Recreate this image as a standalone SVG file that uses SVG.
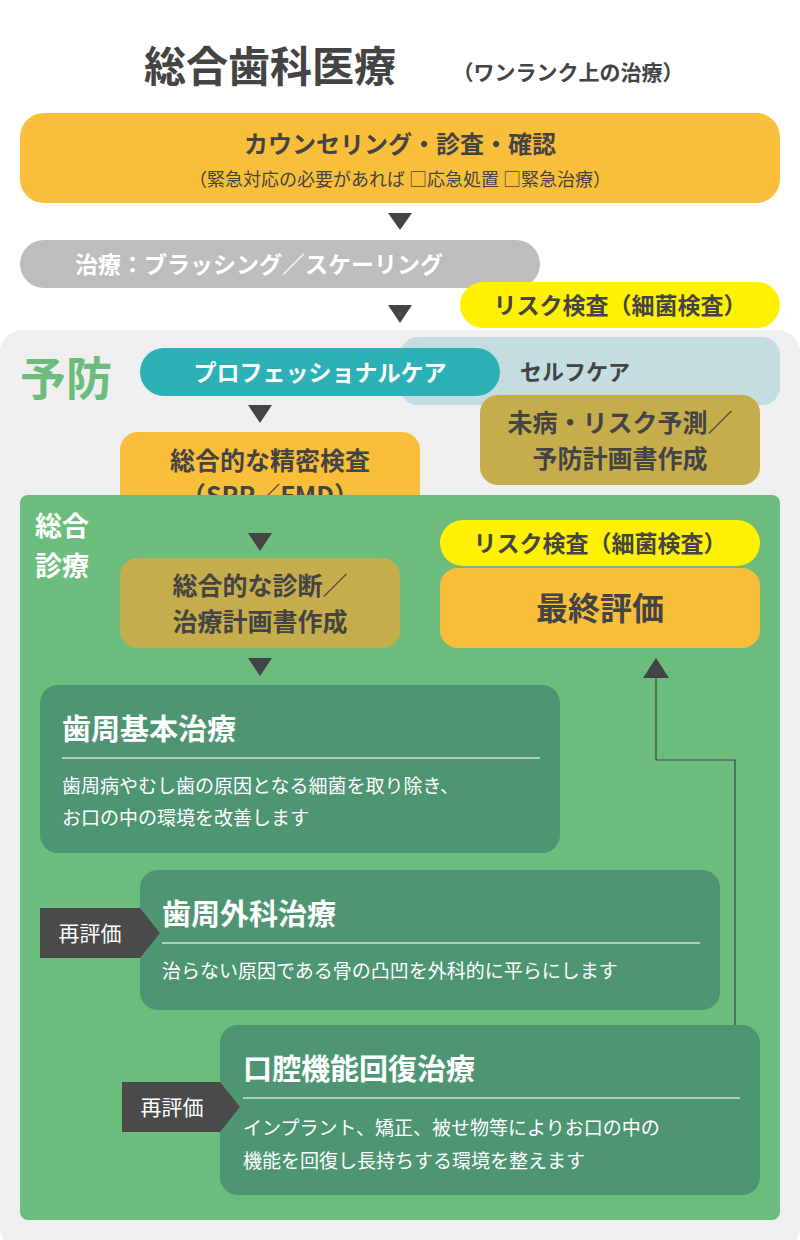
<svg xmlns="http://www.w3.org/2000/svg" width="800" height="1240" viewBox="0 0 800 1240">
<style>
text{font-family:"Noto Sans CJK JP","Noto Sans",sans-serif}
.serif{font-family:"Noto Serif CJK JP","Noto Sans CJK JP",serif}
.dk{fill:#444}
.w{fill:#fff}
.c{text-anchor:middle}
.b{font-weight:bold}
</style>
<rect width="800" height="1240" fill="#fff"/>
<text x="270" y="82" class="c b dk" font-size="42" fill="#444">総合歯科医療</text>
<text x="568" y="80" class="c b dk" font-size="21">（ワンランク上の治療）</text>

<g id="counsel"><rect x="20" y="113" width="760" height="90" rx="24" fill="#F9BF3A"/>
<text x="400" y="153" class="c b dk" font-size="24">カウンセリング・診査・確認</text>
<text x="400" y="186" class="c dk" font-size="18">（緊急対応の必要があれば □応急処置 □緊急治療）</text></g>

<g id="brush"><rect x="20" y="240" width="520" height="48" rx="24" fill="#BDBDBD"/>
<text x="75" y="273" class="w b" font-size="23">治療：ブラッシング／スケーリング</text></g>

<rect x="0" y="330" width="800" height="920" rx="22" fill="#EFEFEF"/>

<g id="risk1"><rect x="460" y="282" width="320" height="46" rx="23" fill="#FFF100"/>
<text x="620" y="314" class="c b dk" font-size="23">リスク検査（細菌検査）</text></g>

<text x="20" y="395" font-size="46" font-weight="bold" fill="#6CBD7D">予防</text>

<g id="self"><rect x="400" y="337" width="380" height="68" rx="18" fill="#C5DCE0"/>
<text x="520" y="380" class="b dk" font-size="22">セルフケア</text></g>
<g id="pro"><rect x="140" y="348" width="360" height="48" rx="24" fill="#2CB2B6"/>
<text x="320" y="381" class="c w b" font-size="23">プロフェッショナルケア</text></g>

<g id="mibyo"><rect x="480" y="395" width="280" height="90" rx="18" fill="#C6AD4C"/>
<text x="620" y="432" class="c b dk" font-size="25">未病・リスク予測／</text>
<text x="620" y="468" class="c b dk" font-size="25">予防計画書作成</text></g>

<g id="seimitsu"><rect x="120" y="432" width="300" height="90" rx="18" fill="#F9BF3A"/>
<text x="270" y="470" class="c b dk" font-size="25">総合的な精密検査</text>
<text x="270" y="505" class="c b dk" font-size="25">（SRP／FMD）</text></g>

<rect x="20" y="495" width="760" height="725" rx="8" fill="#6CBD7D"/>
<text x="35" y="536" class="w b" font-size="27">総合</text>
<text x="35" y="576" class="w b" font-size="27">診療</text>

<g id="shindan"><rect x="120" y="558" width="280" height="90" rx="18" fill="#C6AD4C"/>
<text x="260" y="595" class="c b dk" font-size="25">総合的な診断／</text>
<text x="260" y="631" class="c b dk" font-size="25">治療計画書作成</text></g>

<g id="risk2"><rect x="440" y="520" width="320" height="46" rx="23" fill="#FFF100"/>
<text x="600" y="552" class="c b dk" font-size="23">リスク検査（細菌検査）</text></g>
<g id="final"><rect x="440" y="568" width="320" height="80" rx="18" fill="#F9BF3A"/>
<text x="600" y="620" class="c b dk" font-size="32">最終評価</text></g>

<g id="kihon"><rect x="40" y="685" width="520" height="168" rx="18" fill="#4E9673"/>
<text x="62" y="740" class="w b" font-size="29">歯周基本治療</text>
<line x1="62" y1="758" x2="540" y2="758" stroke="#cfe3d6" stroke-width="1.5"/>
<text x="62" y="793" class="w" font-size="19">歯周病やむし歯の原因となる細菌を取り除き、</text>
<text x="62" y="825" class="w" font-size="19">お口の中の環境を改善します</text></g>

<g id="geka"><rect x="140" y="870" width="580" height="140" rx="18" fill="#4E9673"/>
<text x="162" y="925" class="w b" font-size="29">歯周外科治療</text>
<line x1="162" y1="943" x2="700" y2="943" stroke="#cfe3d6" stroke-width="1.5"/>
<text x="162" y="978" class="w" font-size="19">治らない原因である骨の凸凹を外科的に平らにします</text></g>
<g id="re1"><path d="M40,908 H140 L160,933 L140,958 H40 Z" fill="#4A4A4A"/>
<text x="90" y="941" class="c w" font-size="21">再評価</text></g>

<g id="kinou"><rect x="220" y="1025" width="540" height="170" rx="18" fill="#4E9673"/>
<text x="243" y="1080" class="w b" font-size="29">口腔機能回復治療</text>
<line x1="243" y1="1098" x2="740" y2="1098" stroke="#cfe3d6" stroke-width="1.5"/>
<text x="243" y="1135" class="w" font-size="19">インプラント、矯正、被せ物等によりお口の中の</text>
<text x="243" y="1168" class="w" font-size="19">機能を回復し長持ちする環境を整えます</text></g>
<g id="re2"><path d="M122,1082 H220 L240,1107 L220,1132 H122 Z" fill="#4A4A4A"/>
<text x="172" y="1115" class="c w" font-size="21">再評価</text></g>

<g id="connectors" fill="#444">
<path d="M388,213 H412 L400,230 Z"/>
<path d="M388,305 H412 L400,323 Z"/>
<path d="M248,405 H272 L260,423 Z"/>
<path d="M248,533 H272 L260,551 Z"/>
<path d="M248,658 H272 L260,676 Z"/>
<path d="M735,1025 V760 H656 V678" fill="none" stroke="#444" stroke-width="1.2"/>
<path d="M643,678 H669 L656,658 Z"/>
</g>
</svg>
